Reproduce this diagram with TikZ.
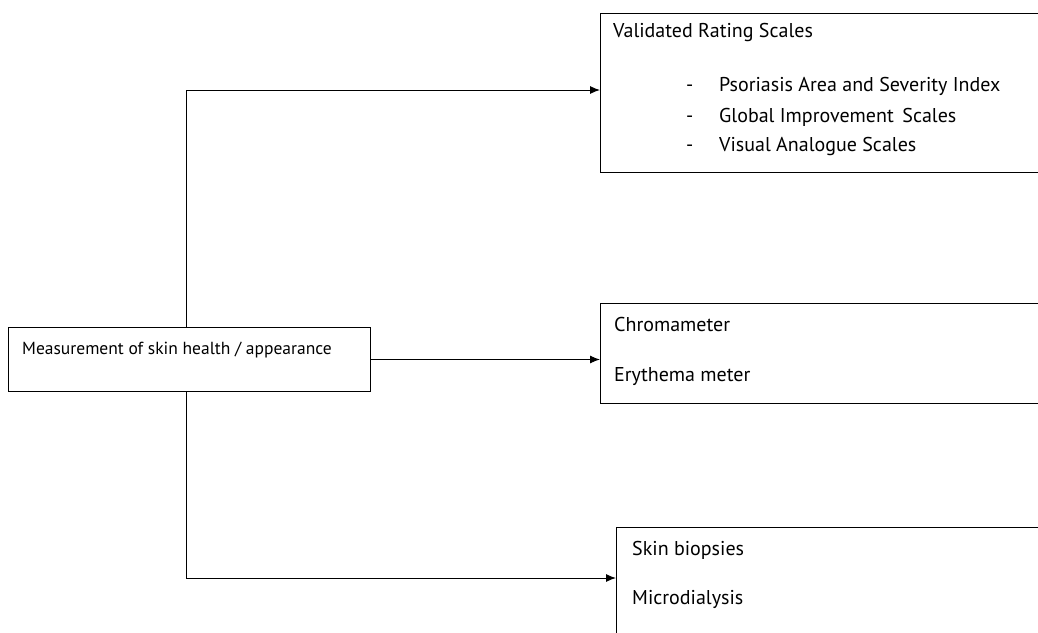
\documentclass[tikz,border=0pt]{standalone}
\usepackage{fontspec}
\setmainfont{PT Sans}
\usepackage{tikz}
\usetikzlibrary{arrows.meta}

\begin{document}
\begin{tikzpicture}[x=1pt,y=-1pt,font=\fontsize{20}{22}\selectfont]
		\useasboundingbox (0,0) rectangle (1038,632);
		\clip (0,0) rectangle (1038,632);

		\begin{scope}[every node/.style={rectangle,draw,line width=1pt,anchor=north west,inner sep=0pt}]
		    \node[minimum width=362pt,minimum height=64pt] (m) at (8,327) {};
		    \node[minimum width=480pt,minimum height=159pt] (t) at (600,13) {};
		    \node[minimum width=480pt,minimum height=100pt] (c) at (600,303) {};
		    \node[minimum width=460pt,minimum height=140pt] (b) at (616,527) {};
		\end{scope}

		\begin{scope}[every node/.style={anchor=base west,inner sep=0pt}]
		    \node[font=\fontsize{17.5}{20}\selectfont] (mt) at (22,354) {Measurement of skin health / appearance};
		    \node (t0) at (613,37) {Validated Rating Scales};
		    \node (t1) at (686,91) {-};
		    \node (t2) at (686,122) {-};
		    \node (t3) at (686,151) {-};
		    \node (s1) at (719,91) {Psoriasis Area and Severity Index};
		    \node (s2) at (719,122) {Global Improvement\, Scales};
		    \node (s3) at (719,151) {Visual Analogue Scales};
		    \node (c1) at (614,331) {Chromameter};
		    \node (c2) at (614,381) {Erythema meter};
		    \node (b1) at (632,555) {Skin biopsies};
		    \node (b2) at (632,604) {Microdialysis};
		\end{scope}

		\coordinate (bin) at ([yshift=-51pt]b.north west);

		\begin{scope}[>={Latex[length=10pt,width=8pt]},line width=1pt]
		    \draw[->] ([xshift=-3pt]m.north) |- ([yshift=3pt]t.west);
		    \draw[->] (m.east) -- (m.east -| c.west);
		    \draw[->] ([xshift=-3pt]m.south) |- (bin);
		\end{scope}
\end{tikzpicture}
\end{document}
